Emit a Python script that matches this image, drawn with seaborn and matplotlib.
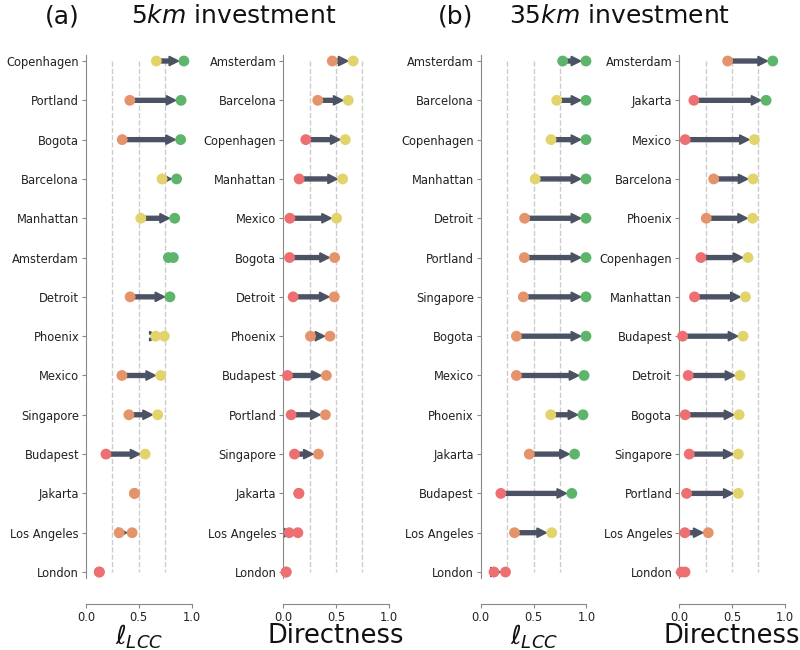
import numpy as np
import pandas as pd
import seaborn as sns
import matplotlib.pyplot as plt

# ---- data, top row first in each panel ----
cities_a_lcc = ['Copenhagen', 'Portland', 'Bogota', 'Barcelona', 'Manhattan', 'Amsterdam', 'Detroit',
                'Phoenix', 'Mexico', 'Singapore', 'Budapest', 'Jakarta', 'Los Angeles', 'London']
start_a_lcc = [0.666, 0.415, 0.343, 0.72, 0.519, 0.78, 0.418, 0.66, 0.34, 0.406, 0.189, 0.459, 0.314, 0.126]
end_a_lcc = [0.927, 0.90, 0.896, 0.858, 0.84, 0.827, 0.795, 0.742, 0.708, 0.679, 0.56, 0.459, 0.437, 0.126]

cities_a_dir = ['Amsterdam', 'Barcelona', 'Copenhagen', 'Manhattan', 'Mexico', 'Bogota', 'Detroit',
                'Phoenix', 'Budapest', 'Portland', 'Singapore', 'Jakarta', 'Los Angeles', 'London']
start_a_dir = [0.465, 0.327, 0.214, 0.151, 0.063, 0.06, 0.094, 0.258, 0.041, 0.075, 0.107, 0.148, 0.057, 0.028]
end_a_dir = [0.663, 0.616, 0.588, 0.563, 0.506, 0.487, 0.484, 0.443, 0.409, 0.40, 0.333, 0.148, 0.139, 0.028]

cities_b_lcc = ['Amsterdam', 'Barcelona', 'Copenhagen', 'Manhattan', 'Detroit', 'Portland', 'Singapore',
                'Bogota', 'Mexico', 'Phoenix', 'Jakarta', 'Budapest', 'Los Angeles', 'London']
start_b_lcc = [0.775, 0.719, 0.665, 0.515, 0.415, 0.412, 0.403, 0.337, 0.337, 0.662, 0.459, 0.19, 0.319, 0.125]
end_b_lcc = [0.996, 0.996, 0.996, 0.996, 0.996, 0.996, 0.996, 0.996, 0.978, 0.968, 0.888, 0.862, 0.672, 0.234]

cities_b_dir = ['Amsterdam', 'Jakarta', 'Mexico', 'Barcelona', 'Phoenix', 'Copenhagen', 'Manhattan',
                'Budapest', 'Detroit', 'Bogota', 'Singapore', 'Portland', 'Los Angeles', 'London']
start_b_dir = [0.459, 0.139, 0.057, 0.326, 0.256, 0.206, 0.145, 0.032, 0.085, 0.057, 0.095, 0.07, 0.054, 0.02]
end_b_dir = [0.886, 0.823, 0.712, 0.70, 0.696, 0.652, 0.627, 0.605, 0.576, 0.567, 0.56, 0.56, 0.275, 0.055]

class_colors = ['#ee6f71', '#e5936a', '#e2d36b', '#5db56c']   # <.25, <.5, <.75, >=.75
arrow_color = '#4b5263'

sns.set_style('ticks')
plt.rcParams['font.family'] = ['DejaVu Sans']

fig = plt.figure(figsize=(8, 6.5), dpi=100)
lefts = [0.1075, 0.354, 0.601, 0.849]
panels = [(cities_a_lcc, start_a_lcc, end_a_lcc, r'$\ell_{LCC}$'),
          (cities_a_dir, start_a_dir, end_a_dir, 'Directness'),
          (cities_b_lcc, start_b_lcc, end_b_lcc, r'$\ell_{LCC}$'),
          (cities_b_dir, start_b_dir, end_b_dir, 'Directness')]

for left, (cities, start, end, xlab) in zip(lefts, panels):
    ax = fig.add_axes([left, 0.1109, 0.132, 0.8043])
    start = np.array(start)
    end = np.array(end)
    df = pd.DataFrame({'city': cities * 2,
                       'value': np.concatenate([start, end])})
    df['cls'] = np.digitize(df['value'], [0.25, 0.5, 0.75])
    pal = {i: c for i, c in enumerate(class_colors)}

    ax.vlines([0.25, 0.5, 0.75], 0, len(cities) - 1, colors='#cccccc',
              linestyles='--', linewidth=1, zorder=0)

    for i in range(len(cities)):
        diff = end[i] - start[i]
        if diff > 0.06:
            ax.arrow(start[i], i, diff - 0.05, 0, width=0.1, head_width=0.24,
                     head_length=0.09, length_includes_head=True,
                     color=arrow_color, zorder=2)

    sns.stripplot(data=df, x='value', y='city', hue='cls', palette=pal,
                  order=cities, jitter=False, size=7.8, linewidth=0,
                  legend=False, ax=ax, zorder=3, clip_on=False)

    ax.set_xlim(0, 1)
    ax.set_ylim(len(cities) - 1 + 0.15, -0.15)
    ax.set_xticks([0, 0.5, 1.0])
    ax.set_xticklabels(['0.0', '0.5', '1.0'])
    ax.set_ylabel('')
    ax.set_xlabel(xlab, fontsize=18.5, labelpad=-1, color='#111111')
    ax.tick_params(axis='both', labelsize=8.3, length=3, color='#888888',
                   pad=2, labelcolor='#222222')
    for s in ['top', 'right']:
        ax.spines[s].set_visible(False)
    ax.spines['left'].set_color('#888888')
    ax.spines['bottom'].set_color('#888888')
    ax.spines['bottom'].set_position(('outward', 19))

fig.text(0.0775, 0.975, '(a)', fontsize=18, ha='center', va='center', color='#111111')
fig.text(0.292, 0.975, r'5$km$ investment', fontsize=18, ha='center', va='center', color='#111111')
fig.text(0.569, 0.975, '(b)', fontsize=18, ha='center', va='center', color='#111111')
fig.text(0.775, 0.975, r'35$km$ investment', fontsize=18, ha='center', va='center', color='#111111')

fig.savefig('out.png', dpi=100)
